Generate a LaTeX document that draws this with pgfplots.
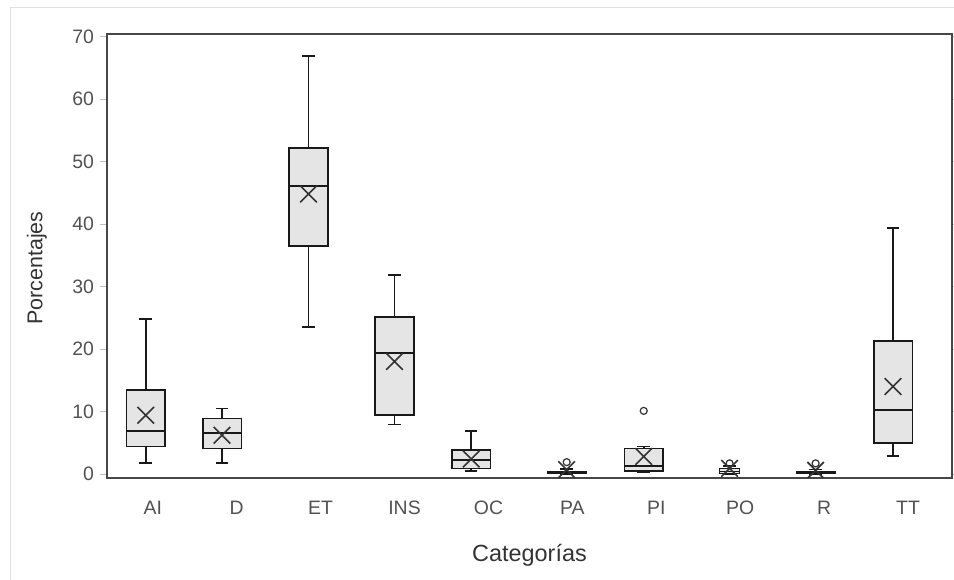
\documentclass[border=0pt]{standalone}
\usepackage{fontspec}
\setmainfont{Liberation Sans}
\usepackage{pgfplots}
\pgfplotsset{compat=1.18}
\usepgfplotslibrary{statistics}
\usetikzlibrary{shapes.misc}

\pgfplotsset{
  caja/.style={draw=black!90, fill=black!10, line width=1.6bp, mark=o, mark size=3.5bp,
    mark options={line width=1.2bp, draw=black!80, fill=none}},
}

\begin{document}
\begin{tikzpicture}
\useasboundingbox (0,0) rectangle (954bp,580bp);
\draw[black!12, line width=1bp] (10bp,0) -- (10bp,572bp) -- (954bp,572bp);
\begin{axis}[
  at={(107bp,102bp)}, anchor=south west,
  scale only axis, width=845bp, height=444bp,
  xmin=-0.545, xmax=9.523, ymin=-0.64, ymax=70.4,
  xtick={0,...,9}, xticklabels={AI,D,ET,INS,OC,PA,PI,PO,R,TT},
  ytick={0,10,...,70},
  xtick align=inside, ytick align=outside,
  major tick length=7bp,
  xtick style={draw=none},
  ytick style={draw=black!25, line width=0.8bp},
  axis line style={draw=black!72, line width=1.8bp},
  /pgf/number format/assume math mode=true,
  ticklabel style={font=\fontsize{19.5}{22}\selectfont, text=black!68},
  xticklabel style={anchor=base, yshift=-36bp},
  yticklabel style={xshift=-2.5bp},
  xlabel={Categorías}, ylabel={Porcentajes},
  label style={text=black!80},
  xlabel style={font=\fontsize{23.5}{27}\selectfont, at={(axis description cs:0.5,0)}, anchor=base, yshift=-83.7bp},
  ylabel style={font=\fontsize{21.5}{25}\selectfont, at={(axis description cs:-0.0765,0.473)}, anchor=base},
  boxplot/draw direction=y,
  boxplot/box extend=0.46,
  boxplot/whisker extend=0.15,
  boxplot/draw/average/.code={\node[draw=black!80, fill=none, cross out, line width=1.6bp,
    minimum size=15bp, inner sep=0pt] at (boxplot box cs:\pgfplotsboxplotvalue{average},0.5) {};},
]
% AI
\addplot[caja, boxplot prepared={draw position=-0.083, lower whisker=1.8, lower quartile=4.4,
  median=6.9, upper quartile=13.4, upper whisker=24.8, average=9.4}] coordinates {};
% D
\addplot[caja, boxplot prepared={draw position=0.826, lower whisker=1.8, lower quartile=4.1,
  median=6.6, upper quartile=8.9, upper whisker=10.5, average=6.2}] coordinates {};
% ET
\addplot[caja, boxplot prepared={draw position=1.855, lower whisker=23.5, lower quartile=36.5,
  median=46.1, upper quartile=52.2, upper whisker=66.9, average=44.8}] coordinates {};
% INS
\addplot[caja, boxplot prepared={draw position=2.880, lower whisker=7.9, lower quartile=9.4,
  median=19.4, upper quartile=25.1, upper whisker=31.8, average=18.0}] coordinates {};
% OC
\addplot[caja, boxplot prepared={draw position=3.794, lower whisker=0.5, lower quartile=0.85,
  median=2.2, upper quartile=3.8, upper whisker=6.9, average=2.4}] coordinates {};
% PA
\addplot[caja, boxplot prepared={draw position=4.932, lower whisker=0, lower quartile=0.1,
  median=0.2, upper quartile=0.3, upper whisker=0.8, average=0.7}]
  table[row sep=\\, y index=0] {v\\ 1.9\\};
% PI
\addplot[caja, boxplot prepared={draw position=5.850, lower whisker=0.3, lower quartile=0.5,
  median=1.3, upper quartile=4.1, upper whisker=4.4, average=2.8}]
  table[row sep=\\, y index=0] {v\\ 10.1\\};
% PO
\addplot[caja, boxplot prepared={draw position=6.873, box extend=0.24, lower whisker=0,
  lower quartile=0.1, median=0.4, upper quartile=0.9, upper whisker=1.3, average=0.9}]
  table[row sep=\\, y index=0] {v\\ 1.7\\};
% R
\addplot[caja, boxplot prepared={draw position=7.898, lower whisker=0, lower quartile=0.1,
  median=0.2, upper quartile=0.3, upper whisker=0.7, average=0.6}]
  table[row sep=\\, y index=0] {v\\ 1.7\\};
% TT
\addplot[caja, boxplot prepared={draw position=8.820, lower whisker=2.9, lower quartile=5.0,
  median=10.2, upper quartile=21.3, upper whisker=39.4, average=14.0}] coordinates {};
\end{axis}
\end{tikzpicture}
\end{document}
